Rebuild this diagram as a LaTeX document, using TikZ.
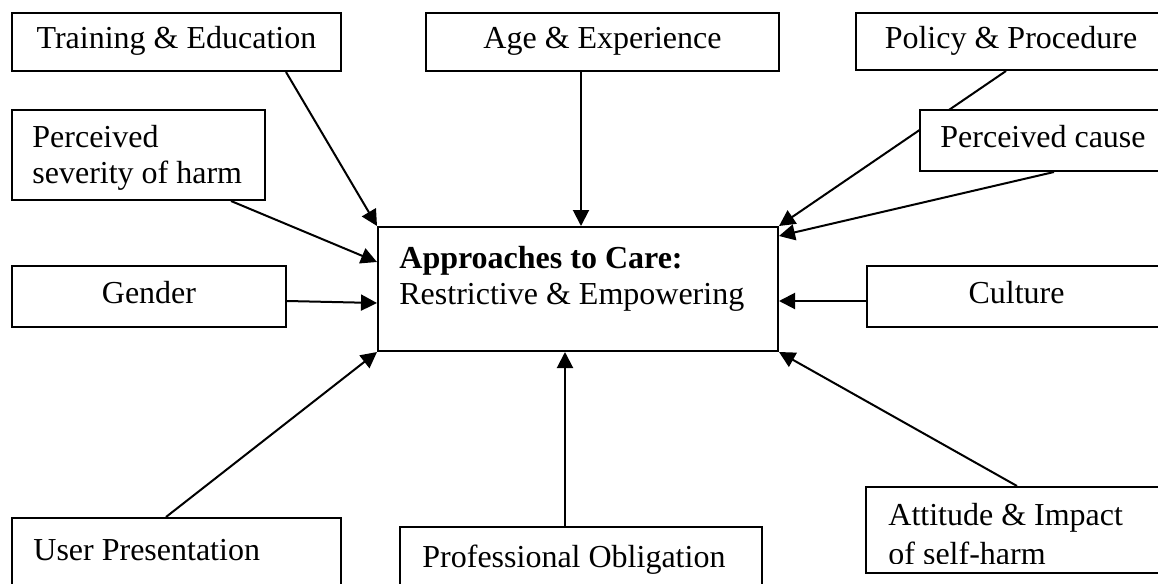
\documentclass[tikz,border=0pt]{standalone}
\usepackage{fontspec}
\setmainfont{Liberation Serif}
\usetikzlibrary{arrows.meta,calc,backgrounds}
\begin{document}
\begin{tikzpicture}[x=0.5pt,y=-0.5pt,
  font=\fontsize{16}{18}\selectfont,
  box/.style={draw, line width=1pt, fill=white, inner sep=0pt, text height=0.66em, text depth=0pt},
  lbl/.style={inner sep=0pt, anchor=base west},
  arr/.style={line width=1pt, -{Triangle[length=8pt,width=8pt]}}]
\useasboundingbox (0,0) rectangle (1158,584);
\clip (0,0) rectangle (1158,584);

% boxes
\node[box, minimum width=164.5pt, minimum height=29pt] (tr) at (176.5,42) {Training \& Education};
\node[box, minimum width=176.5pt, minimum height=29pt] (ae) at (602.5,42) {Age \& Experience};
\node[box, minimum width=155pt, minimum height=28.5pt] (pp) at (1011,41.5) {Policy \& Procedure};
\node[box, minimum width=126.5pt, minimum height=45pt] (ps) at (138.5,155) {};
\node[lbl] (ps1) at (32,147) {Perceived};
\node[lbl] (ps2) at (32,183) {severity of harm};
\node[box, minimum width=123pt, minimum height=30.5pt] (pc) at (1043,140.5) {Perceived cause};
\node[box, minimum width=137pt, minimum height=30.5pt] (g) at (149,296.5) {Gender};
\node[box, minimum width=200pt, minimum height=62pt] (c) at (578,289) {};
\node[lbl] (c1) at (399,268) {\bfseries Approaches to Care:};
\node[lbl] (c2) at (399,304) {Restrictive \& Empowering};
\node[box, minimum width=149.5pt, minimum height=30.5pt] (cu) at (1016.5,296.5) {Culture};
\node[box, minimum width=164.5pt, minimum height=51pt] (up) at (176.5,569) {};
\node[lbl] (up1) at (33,560) {User Presentation};
\node[box, minimum width=181pt, minimum height=46.5pt] (po) at (581,573.5) {};
\node[lbl] (po1) at (422,567) {Professional Obligation};
\node[box, minimum width=152pt, minimum height=43pt] (at) at (1018,530) {};
\begin{scope}
  \clip (at.north west) rectangle ($(at.south east)+(0,-11)$);
  \node[lbl] (at1) at (888,525) {Attitude \& Impact};
  \node[lbl] (at2) at (888,564) {of self-harm};
\end{scope}

% connectors
\begin{pgfonlayer}{background}
\draw[arr] ($(tr.south west)+(275,0)$) -- (c.north west);
\draw[arr] ($(ae.south west)+(156,0)$) -- ($(c.north west)+(204,0)$);
\draw[arr] ($(pp.south west)+(151,0)$) -- (c.north east);
\draw[arr] ($(pc.south west)+(135,0)$) -- ($(c.north east)+(0,10)$);
\draw[arr] ($(ps.south west)+(220,0)$) -- ($(c.north west)+(0,36)$);
\draw[arr] ($(g.east)+(0,4.5)$) -- ($(c.west)+(0,14)$);
\draw[arr] ($(cu.west)+(0,4.5)$) -- ($(c.east)+(0,12)$);
\draw[arr] ($(up.north west)+(155,0)$) -- (c.south west);
\draw[arr] ($(po.north west)+(166,0)$) -- ($(c.south west)+(188,0)$);
\draw[arr] ($(at.north west)+(152,0)$) -- (c.south east);
\end{pgfonlayer}
\end{tikzpicture}
\end{document}
